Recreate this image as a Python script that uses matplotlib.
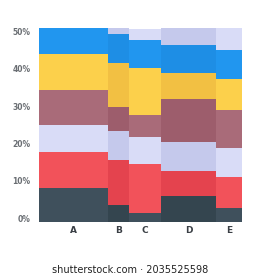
import numpy as np
from matplotlib import pyplot as plt
from matplotlib.transforms import ScaledTranslation

# categories and their share of the x-axis
cats = ['A', 'B', 'C', 'D', 'E']
widths = [34, 10.3, 15.8, 27.1, 12.8]

# stacked segments, bottom to top (percent)
dark = [9.1, 4.5, 2.4, 7.0, 3.7]
red = [9.6, 12.0, 13.1, 6.7, 8.3]
lav = [7.2, 7.8, 7.2, 7.8, 7.8]
mauve = [9.4, 6.4, 6.1, 11.5, 10.2]
yellow = [9.6, 11.8, 12.6, 7.0, 8.3]
blue = [7.0, 7.8, 7.5, 7.5, 7.8]
top = [0.0, 1.6, 2.9, 4.5, 5.9]

yticks = [0, 10, 20, 30, 40, 50]
ylabels = ['0%', '10%', '20%', '30%', '40%', '50%']

# light / dark shade for alternating bars
colors = [
    ('#3f505c', '#34454f'),
    ('#f2525a', '#e4434e'),
    ('#d9dcf7', '#c5c9ec'),
    ('#a96b79', '#9d5d6c'),
    ('#fcd04b', '#f2c043'),
    ('#2196ef', '#1e8ee5'),
    ('#d9dcf7', '#c5c9ec'),
]

def main():
    fig = plt.figure(figsize=(2.6, 2.8), dpi=100)
    ax = fig.add_axes([0.15, 0.207, 0.781, 0.693])

    x = np.concatenate([[0], np.cumsum(widths)[:-1]])
    layers = [dark, red, lav, mauve, yellow, blue, top]
    bottom = np.zeros(len(cats))
    for layer, (c1, c2) in zip(layers, colors):
        cs = [c1 if i % 2 == 0 else c2 for i in range(len(cats))]
        ax.bar(x, layer, width=widths, bottom=bottom, align='edge',
               color=cs, linewidth=0)
        bottom += np.array(layer)

    ax.set_xlim(0, sum(widths))
    ax.set_ylim(0, bottom.max())
    ax.set_xticks(x + np.array(widths) / 2)
    ax.set_xticklabels(cats, fontsize=6.5, fontweight='bold', color='#3a3f45')
    ax.set_yticks(yticks)
    ax.set_yticklabels(ylabels, fontsize=5.5, fontweight='bold', color='#6a6e73')
    ax.tick_params(length=0)
    ax.tick_params(axis='y', pad=6)
    ax.tick_params(axis='x', pad=3)
    off = ScaledTranslation(0, 4 / 100, fig.dpi_scale_trans)
    for lb in ax.get_yticklabels():
        lb.set_transform(lb.get_transform() + off)
    for s in ax.spines.values():
        s.set_visible(False)

    fig.text(0.5, 0.036, 'shutterstock.com · 2035525598', ha='center',
             va='center', fontsize=7, color='#222222')
    fig.savefig('out.png', dpi=100)

if __name__ == '__main__':
    main()
